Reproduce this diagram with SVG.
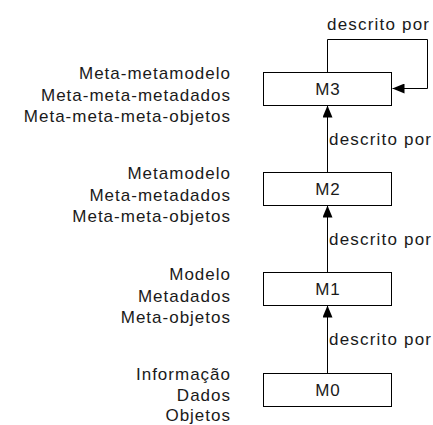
<svg xmlns="http://www.w3.org/2000/svg" width="433" height="425" viewBox="0 0 433 425">
  <defs>
    <style>
      text { font-family: "Liberation Sans", Arial, sans-serif; font-size: 17px; fill: #1a1a1a; letter-spacing: 1px; }
      .lbl { text-anchor: end; }
      .box { fill: #fff; stroke: #000; stroke-width: 1; }
      .name { text-anchor: middle; }
      .edge { fill: none; stroke: #000; stroke-width: 1; }
      .ed { letter-spacing: 1.2px; }
    </style>
    <marker id="ah" viewBox="0 0 12 10" refX="12" refY="5" markerWidth="12" markerHeight="10" markerUnits="userSpaceOnUse" orient="auto">
      <path d="M0,0 L12,5 L0,10 Z" fill="#000"/>
    </marker>
  </defs>
  <rect width="433" height="425" fill="#fff"/>

  <g id="connectors">
    <path class="edge" d="M327.5,72.5 V39.5 H427.5 V88.5 H392.5" marker-end="url(#ah)"/>
    <text class="ed" x="327" y="30">descrito por</text>
    <path class="edge" d="M327.5,172.5 V105.5" marker-end="url(#ah)"/>
    <text class="ed" x="329" y="145">descrito por</text>
    <path class="edge" d="M327.5,272.5 V205.5" marker-end="url(#ah)"/>
    <text class="ed" x="329" y="245">descrito por</text>
    <path class="edge" d="M327.5,373 V305.5" marker-end="url(#ah)"/>
    <text class="ed" x="329" y="345">descrito por</text>
  </g>

  <g id="M3">
    <rect class="box" x="263.5" y="72.5" width="128" height="33"/>
    <text class="name" x="328" y="95">M3</text>
    <text class="lbl" x="231" y="79">Meta-metamodelo</text>
    <text class="lbl" x="231" y="100.5">Meta-meta-metadados</text>
    <text class="lbl" x="231" y="122">Meta-meta-meta-objetos</text>
  </g>
  <g id="M2">
    <rect class="box" x="263.5" y="172.5" width="128" height="33"/>
    <text class="name" x="328" y="195">M2</text>
    <text class="lbl" x="231" y="179">Metamodelo</text>
    <text class="lbl" x="231" y="200.5">Meta-metadados</text>
    <text class="lbl" x="231" y="222">Meta-meta-objetos</text>
  </g>
  <g id="M1">
    <rect class="box" x="263.5" y="272.5" width="128" height="33"/>
    <text class="name" x="328" y="295">M1</text>
    <text class="lbl" x="231" y="280">Modelo</text>
    <text class="lbl" x="231" y="301.5">Metadados</text>
    <text class="lbl" x="231" y="323">Meta-objetos</text>
  </g>
  <g id="M0">
    <rect class="box" x="263.5" y="373.5" width="128" height="33"/>
    <text class="name" x="328" y="396">M0</text>
    <text class="lbl" x="231" y="380">Informação</text>
    <text class="lbl" x="231" y="400.5">Dados</text>
    <text class="lbl" x="231" y="420.5">Objetos</text>
  </g>
</svg>
